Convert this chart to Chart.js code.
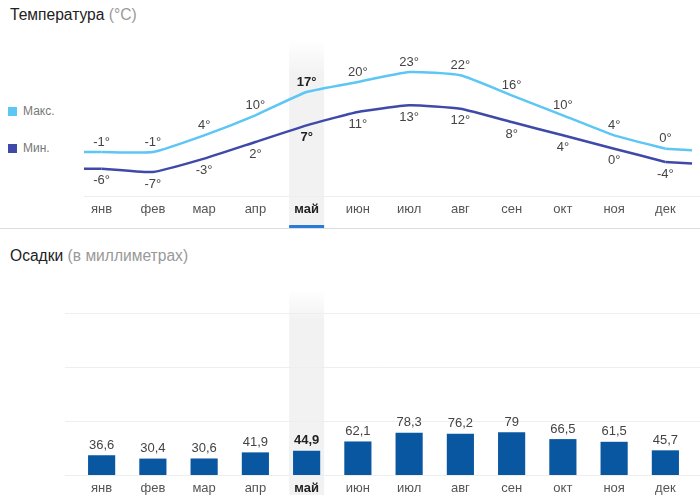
<!DOCTYPE html>
<html lang="ru">
<head>
<meta charset="utf-8">
<title>Температура и осадки</title>
<script src="https://cdn.jsdelivr.net/npm/chart.js@4.4.0/dist/chart.umd.min.js"></script>
<style>
    html, body { margin: 0; padding: 0; background: #fff; }
    body { width: 700px; height: 495px; position: relative; overflow: hidden; font-family: "Liberation Sans", Arial, sans-serif; }
    .title { position: absolute; left: 10px; font-size: 15.6px; color: #222; }
    .title span { color: #999; }
    .legend { position: absolute; left: 8px; font-size: 12px; color: #777; }
    .legend i { display: inline-block; width: 9px; height: 9px; margin-right: 6px; vertical-align: -1px; }
    .sep { position: absolute; left: 0; top: 228px; width: 700px; height: 1px; background: #dcdcdc; }
    canvas { position: absolute; left: 0; }
</style>
</head>
<body>
<div class="title" style="top:6px">Температура <span>(°C)</span></div>
<div class="legend" style="top:104px"><i style="background:#5cc6f4"></i>Макс.</div>
<div class="legend" style="top:141px"><i style="background:#3f4aa8"></i>Мин.</div>
<canvas id="temp-chart" width="700" height="230" style="top:0"></canvas>
<div class="sep"></div>
<div class="title" style="top:247px">Осадки <span>(в миллиметрах)</span></div>
<canvas id="rain-chart" width="700" height="255" style="top:240px"></canvas>

<script>
// Данные
const months = ['янв', 'фев', 'мар', 'апр', 'май', 'июн', 'июл', 'авг', 'сен', 'окт', 'ноя', 'дек'];
const tempMax = [-1, -1, 4, 10, 17, 20, 23, 22, 16, 10, 4, 0];
const tempMin = [-6, -7, -3, 2, 7, 11, 13, 12, 8, 4, 0, -4];
const rainfall = [36.6, 30.4, 30.6, 41.9, 44.9, 62.1, 78.3, 76.2, 79, 66.5, 61.5, 45.7];
const rainTicks = [0, 100, 200, 300];
const currentMonth = 4;

const FONT = '"Liberation Sans", Arial, sans-serif';
const MAX_COLOR = '#5cc6f4';
const MIN_COLOR = '#3f4aa8';
const BAR_COLOR = '#0a57a1';

function fmt(v) {
    return String(v).replace('.', ',');
}

// Полоса выделенного месяца
function drawBand(chart, top, bottom, fadeTo) {
    const ctx = chart.ctx;
    const x = chart.scales.x.getPixelForValue(currentMonth);
    const g = ctx.createLinearGradient(0, top, 0, fadeTo);
    g.addColorStop(0, 'rgba(242,242,242,0)');
    g.addColorStop(1, 'rgba(242,242,242,1)');
    ctx.save();
    ctx.fillStyle = g;
    ctx.fillRect(x - 17.5, top, 35, bottom - top);
    ctx.restore();
}

function drawMonthLabels(chart) {
    const ctx = chart.ctx;
    const xs = chart.scales.x;
    ctx.save();
    ctx.textAlign = 'center';
    ctx.textBaseline = 'middle';
    months.forEach((m, i) => {
        const bold = i === currentMonth;
        ctx.font = (bold ? 'bold ' : '') + '13px ' + FONT;
        ctx.fillStyle = bold ? '#222' : '#555';
        ctx.fillText(m, xs.getPixelForValue(i), chart.chartArea.bottom + 13);
    });
    ctx.restore();
}

const tempPlugin = {
    id: 'tempDecor',
    beforeDatasetsDraw(chart) {
        const ctx = chart.ctx;
        const area = chart.chartArea;
        const xs = chart.scales.x;
        const ys = chart.scales.y;
        drawBand(chart, area.top - 10, 228, area.top + 25);

        ctx.save();
        // линия оси
        ctx.strokeStyle = '#eeeeee';
        ctx.lineWidth = 1;
        ctx.beginPath();
        ctx.moveTo(area.left + 8, area.bottom + 0.5);
        ctx.lineTo(700, area.bottom + 0.5);
        ctx.stroke();

        // подчёркивание текущего месяца
        const cx = xs.getPixelForValue(currentMonth);
        ctx.fillStyle = '#2b7bd6';
        ctx.fillRect(cx - 17.5, 225, 35, 3);

        // продолжение линий к краям
        ctx.lineWidth = 2.5;
        [[tempMax, MAX_COLOR], [tempMin, MIN_COLOR]].forEach(([data, color]) => {
            const last = data.length - 1;
            ctx.strokeStyle = color;
            ctx.beginPath();
            ctx.moveTo(area.left + 8, ys.getPixelForValue(data[0]));
            ctx.lineTo(xs.getPixelForValue(0), ys.getPixelForValue(data[0]));
            ctx.moveTo(xs.getPixelForValue(last), ys.getPixelForValue(data[last]));
            ctx.lineTo(area.right + 1, ys.getPixelForValue(data[last]) + 1.5);
            ctx.stroke();
        });
        ctx.restore();
    },
    afterDatasetsDraw(chart) {
        const ctx = chart.ctx;
        const xs = chart.scales.x;
        const ys = chart.scales.y;
        ctx.save();
        ctx.textAlign = 'center';
        ctx.textBaseline = 'middle';
        months.forEach((m, i) => {
            const bold = i === currentMonth;
            ctx.font = (bold ? 'bold ' : '') + '13px ' + FONT;
            ctx.fillStyle = bold ? '#222' : '#444';
            const x = xs.getPixelForValue(i);
            ctx.fillText(tempMax[i] + '°', x, ys.getPixelForValue(tempMax[i]) - 10);
            ctx.fillText(tempMin[i] + '°', x, ys.getPixelForValue(tempMin[i]) + 12);
        });
        ctx.restore();
        drawMonthLabels(chart);
    }
};

const rainPlugin = {
    id: 'rainDecor',
    beforeDatasetsDraw(chart) {
        const ctx = chart.ctx;
        const ys = chart.scales.y;
        drawBand(chart, 50, 255, 80);
        ctx.save();
        ctx.strokeStyle = '#eeeeee';
        ctx.lineWidth = 1;
        rainTicks.forEach(t => {
            const y = Math.round(ys.getPixelForValue(t)) + 0.5;
            ctx.beginPath();
            ctx.moveTo(65, y);
            ctx.lineTo(700, y);
            ctx.stroke();
        });
        ctx.restore();
    },
    afterDatasetsDraw(chart) {
        const ctx = chart.ctx;
        const meta = chart.getDatasetMeta(0);
        ctx.save();
        ctx.textAlign = 'center';
        ctx.textBaseline = 'middle';
        meta.data.forEach((bar, i) => {
            const bold = i === currentMonth;
            ctx.font = (bold ? 'bold ' : '') + '13px ' + FONT;
            ctx.fillStyle = bold ? '#222' : '#444';
            ctx.fillText(fmt(rainfall[i]), bar.x, bar.y - 10);
        });
        ctx.restore();
        drawMonthLabels(chart);
    }
};

new Chart(document.getElementById('temp-chart'), {
    type: 'line',
    data: {
        labels: months,
        datasets: [
            { label: 'Макс.', data: tempMax, borderColor: MAX_COLOR, borderWidth: 2.5, pointRadius: 0, tension: 0.15 },
            { label: 'Мин.', data: tempMin, borderColor: MIN_COLOR, borderWidth: 2.5, pointRadius: 0, tension: 0.15 }
        ]
    },
    options: {
        responsive: false,
        animation: false,
        devicePixelRatio: 1,
        layout: { padding: { left: 76, right: 9, top: 50, bottom: 34 } },
        plugins: { legend: { display: false }, tooltip: { enabled: false } },
        scales: {
            x: { display: false, offset: true },
            y: { display: false, min: -14.2, max: 29.6 }
        }
    },
    plugins: [tempPlugin]
});

new Chart(document.getElementById('rain-chart'), {
    type: 'bar',
    data: {
        labels: months,
        datasets: [{ label: 'Осадки', data: rainfall, backgroundColor: BAR_COLOR, barPercentage: 0.53, categoryPercentage: 1 }]
    },
    options: {
        responsive: false,
        animation: false,
        devicePixelRatio: 1,
        layout: { padding: { left: 76, right: 9, top: 73, bottom: 20 } },
        plugins: { legend: { display: false }, tooltip: { enabled: false } },
        scales: {
            x: { display: false },
            y: { display: false, min: 0, max: 300 }
        }
    },
    plugins: [rainPlugin]
});
</script>
</body>
</html>
